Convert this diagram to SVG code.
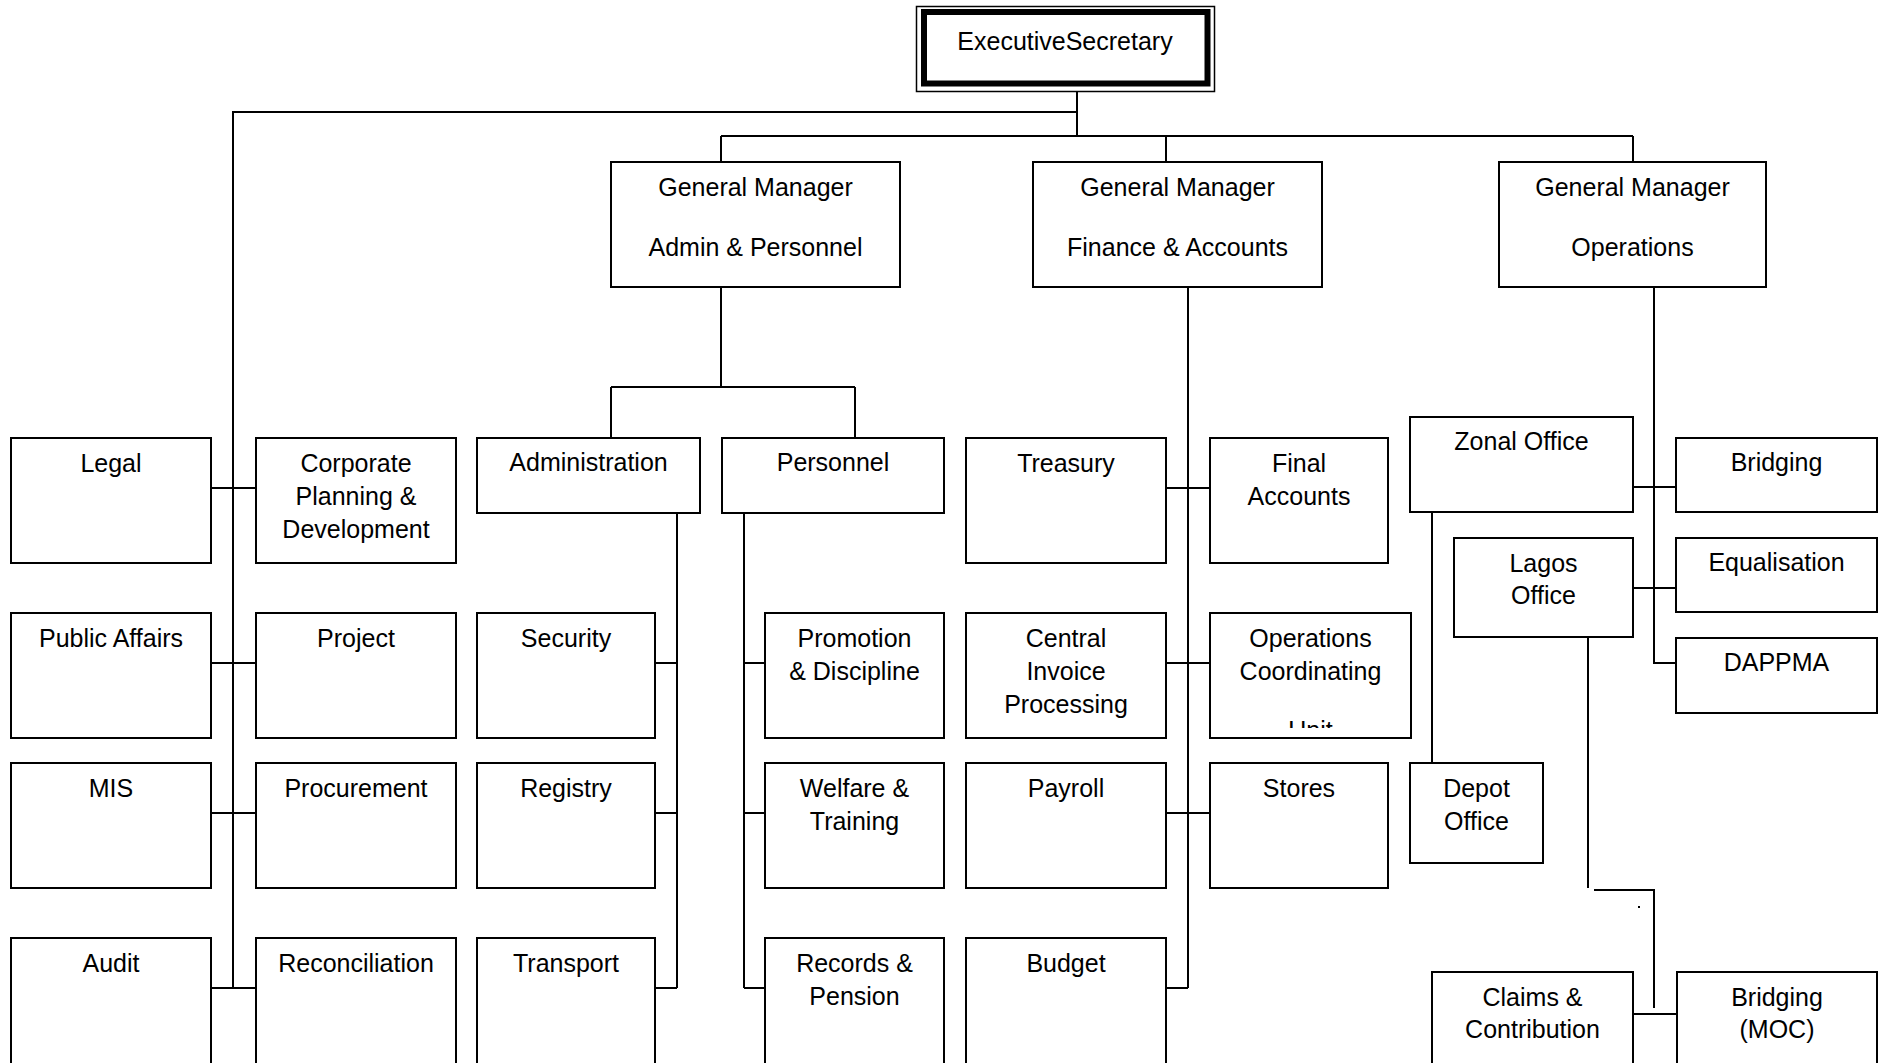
<svg xmlns="http://www.w3.org/2000/svg" width="1881" height="1063" viewBox="0 0 1881 1063">
<style>
  .box { fill: #fff; stroke: #000; stroke-width: 2; }
  .t { font-family: "Liberation Sans", Arial, sans-serif; font-size: 25px; fill: #000; text-anchor: middle; }
  .c { fill: none; stroke: #000; stroke-width: 2; }
</style>
<defs>
  <clipPath id="ocuClip"><rect x="1212" y="600" width="196" height="128"/></clipPath>
</defs>
<rect x="0" y="0" width="1881" height="1063" fill="#fff"/>

<g id="connectors">
  <path class="c" d="M1077 91 V136 M1077 112 H233 V988"/>
  <path class="c" d="M721 136 H1633 M721 136 V162 M1166 136 V162 M1633 136 V162"/>
  <path class="c" d="M211 488 H256 M211 663 H256 M211 813 H256 M211 988 H256"/>
  <path class="c" d="M721 287 V387 M611 387 H855 M611 387 V438 M855 387 V438"/>
  <path class="c" d="M677 513 V988 M655 663 H677 M655 813 H677 M655 988 H677"/>
  <path class="c" d="M744 513 V988 M744 663 H765 M744 813 H765 M744 988 H765"/>
  <path class="c" d="M1188 287 V988 M1166 488 H1210 M1166 663 H1210 M1166 813 H1210 M1166 988 H1188"/>
  <path class="c" d="M1654 287 V663 H1676 M1633 487 H1676 M1633 588 H1676"/>
  <path class="c" d="M1432 512 V763"/>
  <path class="c" d="M1588 637 V888"/>
  <path class="c" d="M1594 890 H1654 V1008"/>
  <path class="c" d="M1633 1014 H1677"/>
  <rect x="1638" y="906" width="2" height="2" fill="#000"/>
</g>

<g id="exec">
  <rect x="916.5" y="6.5" width="298" height="85" fill="#fff" stroke="#000" stroke-width="1.5"/>
  <rect x="924" y="12" width="283.5" height="71.5" fill="#fff" stroke="#000" stroke-width="6"/>
  <text class="t" x="1065" y="50">ExecutiveSecretary</text>
</g>

<g id="gm-admin">
  <rect class="box" x="611" y="162" width="289" height="125"/>
  <text class="t" x="755.5" y="196">General Manager</text>
  <text class="t" x="755.5" y="256">Admin &amp; Personnel</text>
</g>
<g id="gm-finance">
  <rect class="box" x="1033" y="162" width="289" height="125"/>
  <text class="t" x="1177.5" y="196">General Manager</text>
  <text class="t" x="1177.5" y="256">Finance &amp; Accounts</text>
</g>
<g id="gm-operations">
  <rect class="box" x="1499" y="162" width="267" height="125"/>
  <text class="t" x="1632.5" y="196">General Manager</text>
  <text class="t" x="1632.5" y="256">Operations</text>
</g>

<g id="legal"><rect class="box" x="11" y="438" width="200" height="125"/><text class="t" x="111" y="471.5">Legal</text></g>
<g id="public-affairs"><rect class="box" x="11" y="613" width="200" height="125"/><text class="t" x="111" y="646.5">Public Affairs</text></g>
<g id="mis"><rect class="box" x="11" y="763" width="200" height="125"/><text class="t" x="111" y="796.5">MIS</text></g>
<g id="audit"><rect class="box" x="11" y="938" width="200" height="140"/><text class="t" x="111" y="971.5">Audit</text></g>

<g id="corporate-planning"><rect class="box" x="256" y="438" width="200" height="125"/>
  <text class="t" x="356" y="471.5">Corporate</text>
  <text class="t" x="356" y="504.5">Planning &amp;</text>
  <text class="t" x="356" y="537.5">Development</text></g>
<g id="project"><rect class="box" x="256" y="613" width="200" height="125"/><text class="t" x="356" y="646.5">Project</text></g>
<g id="procurement"><rect class="box" x="256" y="763" width="200" height="125"/><text class="t" x="356" y="796.5">Procurement</text></g>
<g id="reconciliation"><rect class="box" x="256" y="938" width="200" height="140"/><text class="t" x="356" y="971.5">Reconciliation</text></g>

<g id="administration"><rect class="box" x="477" y="438" width="223" height="75"/><text class="t" x="588.5" y="471">Administration</text></g>
<g id="security"><rect class="box" x="477" y="613" width="178" height="125"/><text class="t" x="566" y="646.5">Security</text></g>
<g id="registry"><rect class="box" x="477" y="763" width="178" height="125"/><text class="t" x="566" y="796.5">Registry</text></g>
<g id="transport"><rect class="box" x="477" y="938" width="178" height="140"/><text class="t" x="566" y="971.5">Transport</text></g>

<g id="personnel"><rect class="box" x="722" y="438" width="222" height="75"/><text class="t" x="833" y="471">Personnel</text></g>
<g id="promotion"><rect class="box" x="765" y="613" width="179" height="125"/>
  <text class="t" x="854.5" y="646.5">Promotion</text>
  <text class="t" x="854.5" y="679.5">&amp; Discipline</text></g>
<g id="welfare"><rect class="box" x="765" y="763" width="179" height="125"/>
  <text class="t" x="854.5" y="796.5">Welfare &amp;</text>
  <text class="t" x="854.5" y="829.5">Training</text></g>
<g id="records"><rect class="box" x="765" y="938" width="179" height="140"/>
  <text class="t" x="854.5" y="971.5">Records &amp;</text>
  <text class="t" x="854.5" y="1004.5">Pension</text></g>

<g id="treasury"><rect class="box" x="966" y="438" width="200" height="125"/><text class="t" x="1066" y="471.5">Treasury</text></g>
<g id="central-invoice"><rect class="box" x="966" y="613" width="200" height="125"/>
  <text class="t" x="1066" y="646.5">Central</text>
  <text class="t" x="1066" y="679.5">Invoice</text>
  <text class="t" x="1066" y="712.5">Processing</text></g>
<g id="payroll"><rect class="box" x="966" y="763" width="200" height="125"/><text class="t" x="1066" y="796.5">Payroll</text></g>
<g id="budget"><rect class="box" x="966" y="938" width="200" height="140"/><text class="t" x="1066" y="971.5">Budget</text></g>

<g id="final-accounts"><rect class="box" x="1210" y="438" width="178" height="125"/>
  <text class="t" x="1299" y="471.5">Final</text>
  <text class="t" x="1299" y="504.5">Accounts</text></g>
<g id="ocu"><rect class="box" x="1210" y="613" width="201" height="125"/>
  <text class="t" x="1310.5" y="646.5">Operations</text>
  <text class="t" x="1310.5" y="680">Coordinating</text>
  <text class="t" x="1310.5" y="739" clip-path="url(#ocuClip)">Unit</text></g>
<g id="stores"><rect class="box" x="1210" y="763" width="178" height="125"/><text class="t" x="1299" y="796.5">Stores</text></g>

<g id="zonal-office"><rect class="box" x="1410" y="417" width="223" height="95"/><text class="t" x="1521.5" y="450">Zonal Office</text></g>
<g id="lagos-office"><rect class="box" x="1454" y="538" width="179" height="99"/>
  <text class="t" x="1543.5" y="572">Lagos</text>
  <text class="t" x="1543.5" y="604">Office</text></g>
<g id="depot-office"><rect class="box" x="1410" y="763" width="133" height="100"/>
  <text class="t" x="1476.5" y="797">Depot</text>
  <text class="t" x="1476.5" y="830">Office</text></g>
<g id="bridging"><rect class="box" x="1676" y="438" width="201" height="74"/><text class="t" x="1776.5" y="471">Bridging</text></g>
<g id="equalisation"><rect class="box" x="1676" y="538" width="201" height="74"/><text class="t" x="1776.5" y="571">Equalisation</text></g>
<g id="dappma"><rect class="box" x="1676" y="638" width="201" height="75"/><text class="t" x="1776.5" y="671">DAPPMA</text></g>
<g id="claims"><rect class="box" x="1432" y="972" width="201" height="110"/>
  <text class="t" x="1532.5" y="1006">Claims &amp;</text>
  <text class="t" x="1532.5" y="1038">Contribution</text></g>
<g id="bridging-moc"><rect class="box" x="1677" y="972" width="200" height="110"/>
  <text class="t" x="1777" y="1006">Bridging</text>
  <text class="t" x="1777" y="1038">(MOC)</text></g>
</svg>
